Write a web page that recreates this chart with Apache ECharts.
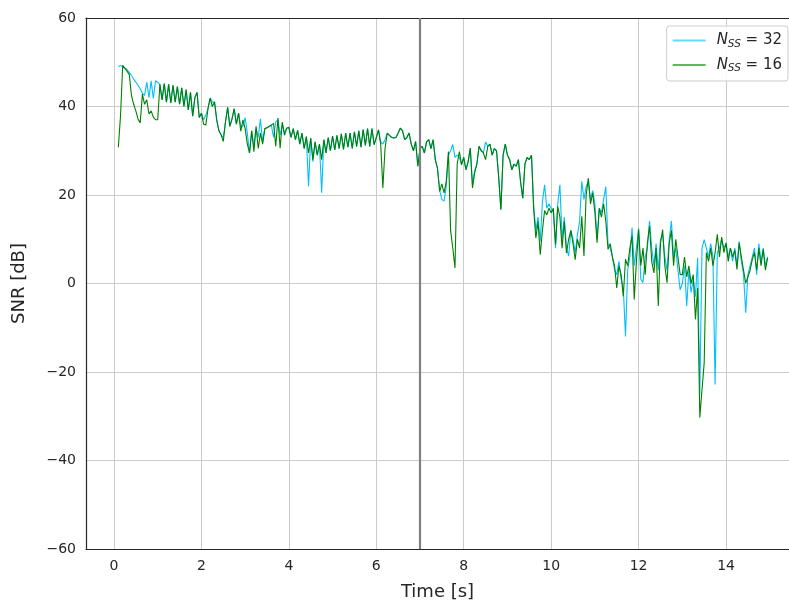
<!DOCTYPE html>
<html>
<head>
<meta charset="utf-8">
<title>SNR</title>
<script src="https://cdn.jsdelivr.net/npm/echarts@6/dist/echarts.min.js"></script>
<style>
  html, body { margin: 0; padding: 0; background: #fff; }
  #chart { width: 789px; height: 606px; }
</style>
</head>
<body>
<div id="chart"></div>
<script>
// samples every 50 ms starting at 0.10 s
var T0 = 0.10, DT = 0.05;

var snr16 = [
  30.8, 38, 49.3, 48.6, 48.0, 47.2, 42.5, 40.5, 39.0, 37.2, 36.3, 42.8, 40.5, 41.5, 38.3, 39.0, 37.6, 37.0,
  37.0, 45.0, 41.5, 45.2, 41.0, 45.0, 40.8, 44.8, 41.0, 44.5, 40.5, 44.2, 40.0, 43.8, 39.2, 43.2, 37.8, 42.0, 43.2, 37.5,
  38.5, 36.0, 35.8, 39.5, 41.9, 40.0, 41.0, 37.0, 34.5, 33.6, 32.1, 36.5, 39.8, 35.5, 37.2, 39.5, 36.0, 38.5, 34.4, 37.0,
  35.0, 31.5, 29.5, 34.5, 29.8, 35.5, 30.5, 34.0, 31.5, 35.0, 35.2, 35.5, 35.8, 36.2, 31.0, 37.4, 30.6, 36.5, 33.5, 35.1,
  35.3, 33.0, 35.0, 32.5, 34.6, 31.5, 34.0, 30.5, 33.2, 29.5, 32.8, 28.0, 32.0, 29.0, 31.5, 28.0, 32.5, 29.5, 33.0, 30.0,
  33.3, 30.2, 33.5, 30.5, 33.8, 30.3, 34.0, 30.8, 34.0, 30.5, 34.3, 31.0, 34.5, 30.8, 34.8, 31.2, 35.0, 31.0, 35.0, 31.4,
  33.0, 34.7, 31.5, 21.6, 30.5, 34.0, 33.5, 33.0, 32.9, 33.0, 34.0, 35.1, 34.5, 32.5, 33.0, 34.0, 31.5, 30.0, 32.1, 26.5,
  30.5, 31.0, 29.5, 32.0, 32.5, 30.5, 32.5, 28.0, 26.0, 20.8, 22.5, 20.5, 23.0, 29.8, 12.0, 8.0, 3.5, 27.0, 29.8, 26.8,
  28.5, 25.7, 27.5, 30.6, 21.6, 25.0, 27.0, 31.0, 30.0, 29.5, 28.0, 31.0, 31.5, 29.0, 30.5, 30.0, 24.0, 16.7, 29.0, 31.5,
  29.0, 28.0, 25.7, 27.0, 26.5, 28.0, 23.0, 19.3, 27.0, 28.5, 28.0, 29.0, 16.7, 10.3, 14.0, 6.5, 12.0, 16.5, 15.5, 17.0,
  16.0, 17.0, 8.8, 17.4, 15.0, 8.0, 14.0, 6.9, 10.0, 12.0, 9.0, 5.4, 10.0, 8.0, 15.2, 6.2, 20.0, 23.8, 18.0, 20.5,
  16.0, 9.2, 17.0, 15.0, 18.0, 14.0, 7.7, 9.0, 6.0, 4.0, -1.0, 4.0, 2.0, -2.9, 5.5, 4.0, 8.0, 10.7, -3.6, 5.0,
  12.2, 4.0, 8.0, 2.0, 9.0, 13.0, 5.0, 2.4, 8.0, -5.1, 9.0, 12.2, 4.0, 0.2, 9.0, 12.0, 4.0, 10.0, 6.0, 2.0,
  2.0, 6.0, 1.5, 4.0, 0.0, 2.0, -8.1, -1.0, -30.3, -24.0, -18.0, 7.0, 5.0, 8.0, 4.0, 7.0, 11.1, 6.0, 10.5, 7.0,
  9.2, 5.0, 8.0, 6.0, 7.5, 3.2, 9.2, 6.0, 3.0, 0.1, 1.5, 3.0, 5.4, 7.0, 3.0, 8.0, 4.0, 7.7, 3.0, 5.8
];

var snr32 = [
  49.0, 49.3, 49.0, 48.7, 48.3, 47.7, 47.0, 46.2, 45.5, 44.8, 44.0, 43.0, 42.5, 45.5, 42.0, 45.8, 41.8, 45.8,
  45.5, 45.0, 41.5, 45.2, 41.0, 45.0, 40.8, 44.8, 41.0, 44.5, 40.5, 44.2, 40.0, 43.8, 39.2, 43.2, 37.8, 42.0, 43.2, 37.5,
  38.5, 37.0, 38.0, 39.5, 41.9, 41.0, 41.0, 37.0, 34.5, 33.6, 33.0, 36.5, 39.8, 35.5, 37.2, 39.5, 36.0, 38.5, 35.5, 35.5,
  37.5, 34.0, 29.5, 34.5, 31.0, 35.0, 33.0, 37.2, 32.0, 35.0, 35.2, 35.5, 35.8, 33.0, 36.5, 37.0, 33.5, 36.0, 34.0, 35.1,
  35.3, 33.0, 35.0, 32.5, 34.6, 31.5, 34.0, 30.5, 33.2, 22.0, 32.8, 27.5, 32.0, 29.0, 31.5, 20.5, 32.5, 29.5, 33.0, 30.0,
  33.3, 30.2, 33.5, 30.5, 33.8, 30.3, 34.0, 30.8, 34.0, 30.5, 34.3, 31.0, 34.5, 30.8, 34.8, 31.2, 35.0, 31.0, 35.0, 31.4,
  33.0, 34.7, 32.0, 31.5, 32.5, 34.0, 33.5, 33.0, 32.9, 33.0, 34.0, 35.1, 34.5, 32.5, 33.0, 34.0, 31.5, 30.0, 32.1, 26.5,
  30.5, 31.0, 29.5, 32.0, 32.5, 30.5, 32.5, 28.0, 26.0, 21.0, 19.0, 18.6, 22.0, 29.0, 30.0, 31.4, 28.5, 29.0, 28.5, 27.0,
  28.5, 25.7, 27.5, 30.6, 22.5, 25.5, 27.0, 31.0, 30.0, 29.5, 32.0, 31.0, 31.5, 29.0, 30.5, 30.0, 24.0, 16.7, 29.0, 31.5,
  29.0, 28.0, 25.7, 27.0, 26.5, 28.0, 23.0, 19.3, 27.0, 28.5, 28.0, 29.0, 17.5, 12.0, 15.0, 9.5, 18.5, 22.3, 17.0, 18.0,
  17.0, 16.0, 8.0, 18.0, 22.3, 10.0, 15.0, 8.0, 6.2, 12.0, 10.0, 7.0, 11.0, 14.0, 23.1, 19.0, 21.9, 23.0, 19.0, 21.0,
  18.0, 10.0, 17.0, 16.0, 19.0, 21.9, 9.0, 8.0, 6.0, 3.0, 2.0, 5.0, 1.0, -1.0, -12.0, 3.0, 6.0, 12.6, 4.0, 8.0,
  12.5, 1.0, 0.2, 6.0, 8.0, 14.1, 8.0, 4.0, 9.0, 3.0, 10.0, 11.0, 6.0, 3.0, 10.0, 14.1, 6.0, 8.0, 3.0, -1.4,
  0.0, 4.0, -5.1, 3.0, -2.0, 1.0, -3.0, 5.8, -25.0, 8.0, 9.9, 8.0, 6.0, 9.0, 6.0, -22.8, 7.0, 8.0, 10.0, 8.0,
  9.0, 6.0, 8.0, 5.0, 8.0, 4.0, 9.5, 5.0, 2.0, -6.6, 2.0, 4.0, 6.0, 8.0, 2.0, 9.0, 5.0, 8.0, 4.0, 6.0
];

var xTicks = [0, 2, 4, 6, 8, 10, 12, 14];
var xMin = -0.64, xMax = 15.44;
var marker = 7;   // vertical reference line [s]

function pairs(vals) {
  return vals.map(function (v, i) { return [+(T0 + i * DT).toFixed(2), v]; });
}

var txt = '#262626';
var font = 'DejaVu Sans';
var legendRich = {
  n: { fontFamily: font, fontSize: 15, fontStyle: 'italic', color: txt },
  s: { fontFamily: font, fontSize: 10.5, fontStyle: 'italic', color: txt, padding: [7, 0, 0, 0] },
  t: { fontFamily: font, fontSize: 15, color: txt }
};

var chart = echarts.init(document.getElementById('chart'), null, { renderer: 'canvas' });
chart.setOption({
  animation: false,
  backgroundColor: '#ffffff',
  grid: { left: 86, top: 18, right: 0, bottom: 47, show: false },
  legend: {
    orient: 'vertical',
    right: 1, top: 26,
    backgroundColor: 'rgba(255,255,255,0.85)',
    borderColor: '#cccccc', borderWidth: 1, borderRadius: 3,
    padding: [7, 6, 7, 6],
    itemGap: 8,
    itemWidth: 33, itemHeight: 2,
    icon: 'rect',
    itemStyle: { opacity: 0.6 },
    data: ['32', '16'],
    formatter: function (name) {
      return '{n|N}{s|SS}{t| = ' + name + '}';
    },
    textStyle: { rich: legendRich, padding: [0, 0, 0, 6] }
  },
  xAxis: [{
    type: 'value',
    min: xMin, max: xMax,
    name: 'Time [s]',
    nameLocation: 'middle',
    nameGap: 34,
    nameTextStyle: { fontFamily: font, fontSize: 18, color: txt },
    axisLine: { show: true, onZero: false, lineStyle: { color: txt, width: 1.2 } },
    axisTick: { show: false, customValues: xTicks },
    axisLabel: { customValues: xTicks, fontFamily: font, fontSize: 14, color: txt, margin: 10 },
    splitLine: { show: true, lineStyle: { color: '#cccccc', width: 1 } }
  }, {
    type: 'value',
    position: 'top',
    min: xMin, max: xMax,
    axisLine: { show: true, onZero: false, lineStyle: { color: txt, width: 1.2 } },
    axisTick: { show: false },
    axisLabel: { show: false },
    splitLine: { show: false }
  }],
  yAxis: {
    type: 'value',
    min: -60, max: 60, interval: 20,
    name: 'SNR [dB]',
    nameLocation: 'middle',
    nameGap: 58,
    nameTextStyle: { fontFamily: font, fontSize: 18, color: txt },
    axisLine: { show: true, onZero: false, lineStyle: { color: txt, width: 1.2 } },
    axisTick: { show: false },
    axisLabel: {
      fontFamily: font, fontSize: 14, color: txt, margin: 10,
      formatter: function (v) { return String(v).replace('-', '\u2212'); }
    },
    splitLine: { show: true, lineStyle: { color: '#cccccc', width: 1 } }
  },
  series: [
    {
      name: '32',
      type: 'line',
      data: pairs(snr32),
      symbol: 'none',
      color: '#00bfff',
      lineStyle: { width: 1.1, color: '#00bfff' },
      markLine: {
        silent: true,
        symbol: 'none',
        label: { show: false },
        lineStyle: { color: '#808080', width: 2.2, type: 'solid' },
        data: [{ xAxis: marker }]
      }
    },
    {
      name: '16',
      type: 'line',
      data: pairs(snr16),
      symbol: 'none',
      color: '#008000',
      lineStyle: { width: 1.1, color: '#008000' }
    }
  ]
});
</script>
</body>
</html>
